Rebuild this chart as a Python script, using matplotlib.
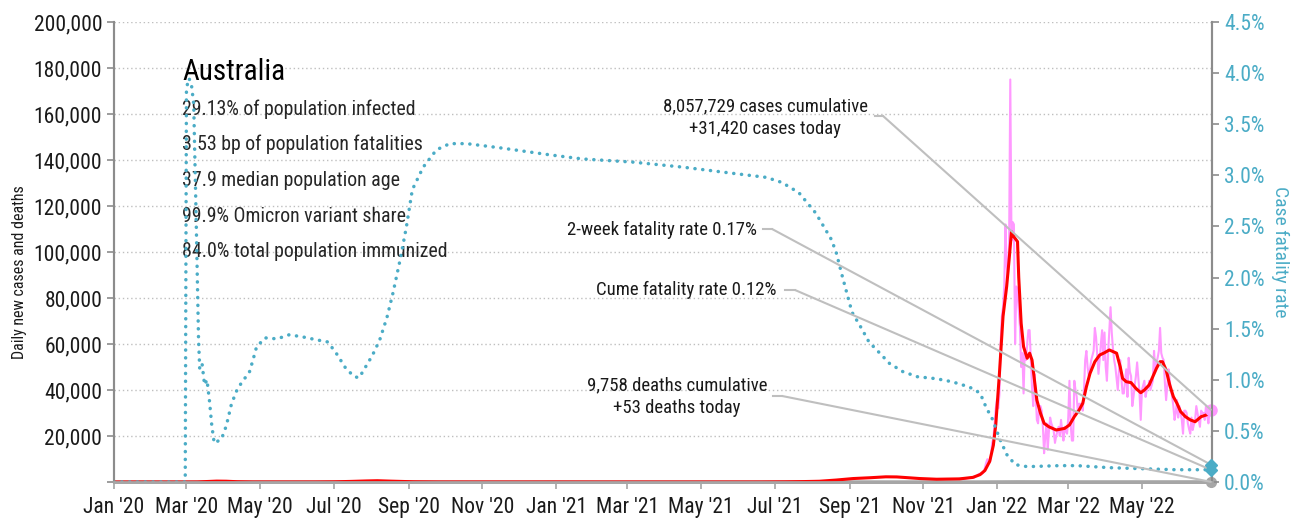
import matplotlib
matplotlib.use('Agg')
import matplotlib.pyplot as plt
import matplotlib.dates as mdates
from matplotlib import font_manager
from matplotlib.ticker import FuncFormatter, MultipleLocator
import pandas as pd

# Condensed font, if there is one installed
disponiveis = {f.name for f in font_manager.fontManager.ttflist}
fonte = 'DejaVu Sans'
for nome in ['Liberation Sans Narrow', 'Roboto Condensed', 'Open Sans Condensed']:
    if nome in disponiveis:
        fonte = nome
        break
plt.rcParams['font.family'] = fonte
if fonte == 'DejaVu Sans':
    plt.rcParams['font.stretch'] = 'condensed'

# --- Data ---------------------------------------------------------------

country = 'Australia'
stats_lines = ['29.13% of population infected',
               '3.53 bp of population fatalities',
               '37.9 median population age',
               '99.9% Omicron variant share',
               '84.0% total population immunized']

cases_cumulative = 8057729
deaths_cumulative = 9758
deaths_today = 53
cfr_2week = 0.17

# daily new cases from 1 Dec 2021
cases_start = '2021-12-01'
cases_daily = [1400, 1500, 1550, 1300, 1200, 1400, 1600, 1700, 1800, 1900,
               1700, 1900, 1800, 2300, 2600, 3000, 3500, 3600, 3600, 3700,
               4500, 6200, 8300, 9900, 8500, 8500, 11000, 17000, 19000, 25000,
               32000,
               36000, 32000, 38000, 60000, 72000, 76000, 85000, 112000, 94000, 89000,
               102000, 175000, 105000, 113000, 112000, 60000, 85000, 82000, 75000, 67000,
               50000, 56000, 38500, 57000, 53000, 60000, 66000, 66000, 53000, 41000,
               33000, 47000, 38500, 27000, 25500, 33000, 33000, 31000, 24000, 12500,
               20000, 25500, 14000, 22000, 28000, 25500, 24000, 22000, 17000, 20000,
               22000, 24000, 20000, 27000, 22000, 18000, 24000, 22000, 21000, 28000,
               44000, 25000, 18000, 18000, 44000, 40000, 37000, 30000, 34000, 34000,
               34000, 31000, 40000, 53000, 57000, 50000, 46000, 49000, 53000, 55000,
               57000, 67000, 63000, 55000, 47000, 53000, 60000, 66000, 53000, 65000,
               50000, 44000, 56000, 66000, 76000, 65000, 58000, 53000, 50000, 45000,
               40000, 49000, 53000, 45000, 38500, 38500, 44000, 49000, 37000, 54000,
               48000, 46000, 33000, 37000, 42000, 46000, 52000, 45000, 38500, 27000,
               40000, 42000, 44000, 37000, 40000, 41000, 44000, 40000, 42000, 44000,
               57000, 49000, 52000, 54000, 57000, 67000, 56000, 54000, 53000, 43000,
               35600, 42000, 49000, 44000, 40000, 37000, 33000, 27000, 30000, 35600,
               28000, 33000, 30000, 27000, 21000, 31000, 31000, 30000, 25500, 23000,
               21000, 28000, 22600, 25000, 27000, 33000, 30000, 27000, 24000, 31000,
               30000, 30000, 27000, 33000, 29000, 25500, 31000, 31420]

# 7-day average of new cases
avg_dates = ['2020-01-01', '2020-02-29', '2020-03-10', '2020-03-18', '2020-03-26',
             '2020-04-03', '2020-04-12', '2020-04-25', '2020-05-20', '2020-06-15',
             '2020-07-01', '2020-07-15', '2020-07-28', '2020-08-06', '2020-08-18',
             '2020-09-05', '2020-09-25', '2020-10-20', '2020-12-01', '2020-12-28',
             '2021-02-01', '2021-05-01', '2021-06-20', '2021-07-10', '2021-07-25',
             '2021-08-07', '2021-08-21', '2021-09-04', '2021-09-18', '2021-10-01',
             '2021-10-10', '2021-10-21', '2021-10-29', '2021-11-12', '2021-12-01',
             '2021-12-12', '2021-12-18', '2021-12-22', '2021-12-26', '2021-12-29',
             '2021-12-31', '2022-01-03', '2022-01-06', '2022-01-09', '2022-01-11',
             '2022-01-13', '2022-01-15', '2022-01-18', '2022-01-19', '2022-01-21',
             '2022-01-23', '2022-01-26', '2022-01-28', '2022-01-30', '2022-02-01',
             '2022-02-03', '2022-02-06', '2022-02-09', '2022-02-13', '2022-02-19',
             '2022-02-26', '2022-03-02', '2022-03-06', '2022-03-10', '2022-03-13',
             '2022-03-16', '2022-03-19', '2022-03-23', '2022-03-27', '2022-03-31',
             '2022-04-04', '2022-04-07', '2022-04-10', '2022-04-13', '2022-04-15',
             '2022-04-18', '2022-04-22', '2022-04-26', '2022-04-30', '2022-05-03',
             '2022-05-07', '2022-05-10', '2022-05-13', '2022-05-16', '2022-05-18',
             '2022-05-21', '2022-05-24', '2022-05-27', '2022-05-30', '2022-06-02',
             '2022-06-06', '2022-06-10', '2022-06-14', '2022-06-19', '2022-06-23',
             '2022-06-27']
avg_cases = [0, 0, 20, 200, 380,
             330, 120, 20, 15, 20,
             80, 250, 450, 550, 350,
             100, 25, 15, 10, 25,
             10, 10, 15, 80, 180,
             320, 850, 1500, 1850, 2250,
             2200, 1800, 1500, 1200, 1350,
             2000, 3200, 5000, 9000, 16000,
             25000, 47000, 72000, 85000, 96500,
             108800, 106600, 104500, 89000, 69000,
             58800, 53800, 56000, 53000, 44300,
             35600, 29900, 25500, 24000, 22600,
             23300, 24800, 28400, 31300, 34200,
             41400, 47200, 52300, 55200, 56200,
             57400, 56700, 56000, 50100, 45000,
             43600, 43200, 40700, 38800, 40000,
             42200, 45800, 49400, 52300, 52300,
             48700, 42200, 37100, 34200, 30600,
             28400, 27000, 26200, 28400, 29100,
             29900]

# daily deaths
deaths_dates = ['2020-01-01', '2020-03-01', '2020-04-05', '2020-06-01', '2020-08-10',
                '2020-10-01', '2021-06-01', '2021-10-01', '2021-12-15', '2022-01-20',
                '2022-03-01', '2022-05-01', '2022-06-27']
deaths_daily = [0, 0, 5, 0, 20, 2, 0, 15, 5, 80, 30, 50, 53]

# cumulative case fatality rate, %
cfr_dates = ['2020-01-01', '2020-02-29', '2020-03-01', '2020-03-03', '2020-03-05',
             '2020-03-07', '2020-03-09', '2020-03-11', '2020-03-12', '2020-03-14',
             '2020-03-16', '2020-03-18', '2020-03-20', '2020-03-22', '2020-03-24',
             '2020-03-27', '2020-03-30', '2020-04-03', '2020-04-07', '2020-04-11',
             '2020-04-16', '2020-04-22', '2020-04-25', '2020-04-28', '2020-05-05',
             '2020-05-15', '2020-05-25', '2020-06-05', '2020-06-17', '2020-06-26',
             '2020-07-03', '2020-07-11', '2020-07-18', '2020-07-22', '2020-07-28',
             '2020-08-02', '2020-08-08', '2020-08-14', '2020-08-19', '2020-08-25',
             '2020-08-30', '2020-09-04', '2020-09-13', '2020-09-24', '2020-10-05',
             '2020-10-19', '2020-11-15', '2020-12-27', '2021-01-23', '2021-03-05',
             '2021-04-16', '2021-05-27', '2021-06-24', '2021-07-07', '2021-07-21',
             '2021-08-04', '2021-08-17', '2021-08-21', '2021-08-26', '2021-09-03',
             '2021-09-11', '2021-09-17', '2021-09-26', '2021-10-04', '2021-10-15',
             '2021-10-27', '2021-11-12', '2021-11-25', '2021-12-09', '2021-12-18',
             '2021-12-23', '2021-12-28', '2022-01-03', '2022-01-09', '2022-01-16',
             '2022-01-26', '2022-02-22', '2022-03-08', '2022-04-04', '2022-05-01',
             '2022-05-29', '2022-06-27']
cfr_pct = [0, 0, 3.85, 3.95, 3.9,
           3.7, 2.6, 1.4, 1.1, 1.15,
           0.95, 1.0, 0.8, 0.55, 0.38,
           0.4, 0.42, 0.55, 0.75, 0.88,
           0.98, 1.07, 1.19, 1.32, 1.41,
           1.40, 1.44, 1.42, 1.39, 1.37,
           1.26, 1.11, 1.03, 1.02, 1.14,
           1.24, 1.39, 1.61, 1.85, 2.18,
           2.49, 2.86, 3.08, 3.25, 3.31,
           3.31, 3.27, 3.20, 3.16, 3.13,
           3.08, 3.02, 2.98, 2.93, 2.83,
           2.63, 2.37, 2.24, 2.01, 1.66,
           1.50, 1.37, 1.26, 1.16, 1.08,
           1.03, 1.01, 0.98, 0.93, 0.87,
           0.73, 0.62, 0.43, 0.27, 0.17,
           0.15, 0.16, 0.16, 0.14, 0.13,
           0.12, 0.12]

# --- Chart --------------------------------------------------------------

rosa = '#FF99FF'
vermelho = '#FF0000'
azul = '#4BACC6'
cinza = '#A6A6A6'
cinza_linha = '#BFBFBF'
eixo = '#8C8C8C'
cor_texto = '#1A1A1A'

dias = pd.date_range(cases_start, periods=len(cases_daily), freq='D')
d_media = pd.to_datetime(avg_dates)
d_mortes = pd.to_datetime(deaths_dates)
d_cfr = pd.to_datetime(cfr_dates)

fig = plt.figure(figsize=(13.01, 5.2), dpi=100)
ax = fig.add_axes([0.0876, 0.0731, 0.8440, 0.8846])
ax2 = ax.twinx()

ax.plot(dias, cases_daily, color=rosa, lw=1.5, zorder=2)
ax.plot(d_mortes, deaths_daily, color=cinza, lw=2.4, zorder=2)
ax.plot(d_media, avg_cases, color=vermelho, lw=2.2, zorder=3)

ax2.plot(d_cfr, cfr_pct, color=azul, lw=2.5, linestyle=(0, (0.05, 2.2)),
         dash_capstyle='round', zorder=2)

# end of series markers
ax.plot(dias[-1], cases_daily[-1], 'o', color=rosa, ms=8, clip_on=False, zorder=5)
ax.plot(d_mortes[-1], deaths_daily[-1], 'o', color=cinza, ms=7, clip_on=False, zorder=5)
ax2.plot(d_cfr[-1], cfr_2week, 'D', color=azul, ms=6, clip_on=False, zorder=5)
ax2.plot(d_cfr[-1], cfr_pct[-1], 'D', color=azul, ms=6, clip_on=False, zorder=5)

ax.set_xlim(pd.Timestamp('2020-01-01'), pd.Timestamp('2022-06-28'))
ax.set_ylim(0, 200000)
ax2.set_ylim(0, 4.5)

ax.xaxis.set_major_locator(mdates.MonthLocator(bymonth=[1, 3, 5, 7, 9, 11]))
ax.xaxis.set_major_formatter(mdates.DateFormatter("%b '%y"))
ax.yaxis.set_major_locator(MultipleLocator(20000))
ax.yaxis.set_major_formatter(FuncFormatter(lambda v, p: '' if v == 0 else f'{v:,.0f}'))
ax2.yaxis.set_major_locator(MultipleLocator(0.5))
ax2.yaxis.set_major_formatter(FuncFormatter(lambda v, p: f'{v:.1f}%'))

ax.grid(axis='y', color=cinza_linha, lw=1, linestyle=(0, (1, 2)))
ax.set_axisbelow(True)

for a in (ax, ax2):
    a.spines['top'].set_visible(False)
    a.spines['left'].set_color(eixo)
    a.spines['right'].set_color(eixo)
    a.spines['left'].set_linewidth(1.5)
    a.spines['right'].set_linewidth(1.5)
    a.spines['bottom'].set_color(cinza)
    a.spines['bottom'].set_linewidth(2)

ax.tick_params(axis='y', colors=eixo, labelcolor=cor_texto, labelsize=15.5, length=5, width=1.2)
ax.tick_params(axis='x', colors=cinza, labelcolor=cor_texto, labelsize=15.5, length=5, width=1.2, pad=6)
ax2.tick_params(axis='y', colors=eixo, labelcolor=azul, labelsize=15.5, length=5, width=1.2)

ax.set_ylabel('Daily new cases and deaths', fontsize=11.5, color=cor_texto)
ax.yaxis.set_label_coords(-0.079, 0.456)
ax2.set_ylabel('Case fatality rate', fontsize=14, color=azul, rotation=270, labelpad=18)

# country block
ax.text(0.062, 0.874, country, transform=ax.transAxes, fontsize=21,
        color='black', va='baseline', ha='left', zorder=6)
for i, linha in enumerate(stats_lines):
    ax.text(0.062, 0.798 - i * 0.0773, linha, transform=ax.transAxes, fontsize=14.3,
            color='#262626', va='baseline', ha='left', zorder=6)

# labels with leader lines to the last values
ultimo = mdates.date2num(dias[-1])
rotulos = [
    (f'{cases_cumulative:,} cases cumulative\n+{cases_daily[-1]:,} cases today',
     (0.593, 0.792), 'center', (0.6931, 0.7004, 0.7957), ax, cases_daily[-1]),
    (f'2-week fatality rate {cfr_2week:.2f}%',
     (0.5856, 0.548), 'right', (0.5911, 0.5993, 0.550), ax2, cfr_2week),
    (f'Cume fatality rate {cfr_pct[-1]:.2f}%',
     (0.6038, 0.4174), 'right', (0.6111, 0.6202, 0.4174), ax2, cfr_pct[-1]),
    (f'{deaths_cumulative:,} deaths cumulative\n+{deaths_today} deaths today',
     (0.5128, 0.1848), 'center', (0.6002, 0.6084, 0.187), ax, deaths_daily[-1]),
]
for texto, pos, alinh, (x0, x1, yl), eixo_ref, valor in rotulos:
    ax2.text(pos[0], pos[1], texto, transform=ax.transAxes, fontsize=13.5,
             color=cor_texto, ha=alinh, va='center', linespacing=1.35, zorder=6)
    ax2.plot([x0, x1], [yl, yl], color=cinza_linha, lw=1.5, transform=ax.transAxes,
             clip_on=False, zorder=4)
    ax2.annotate('', xy=(ultimo, valor), xycoords=eixo_ref.transData,
                 xytext=(x1, yl), textcoords=ax.transAxes,
                 arrowprops=dict(arrowstyle='-', color=cinza_linha, lw=1.5,
                                 shrinkA=0, shrinkB=0), zorder=4)

fig.savefig('out.png', dpi=100)
